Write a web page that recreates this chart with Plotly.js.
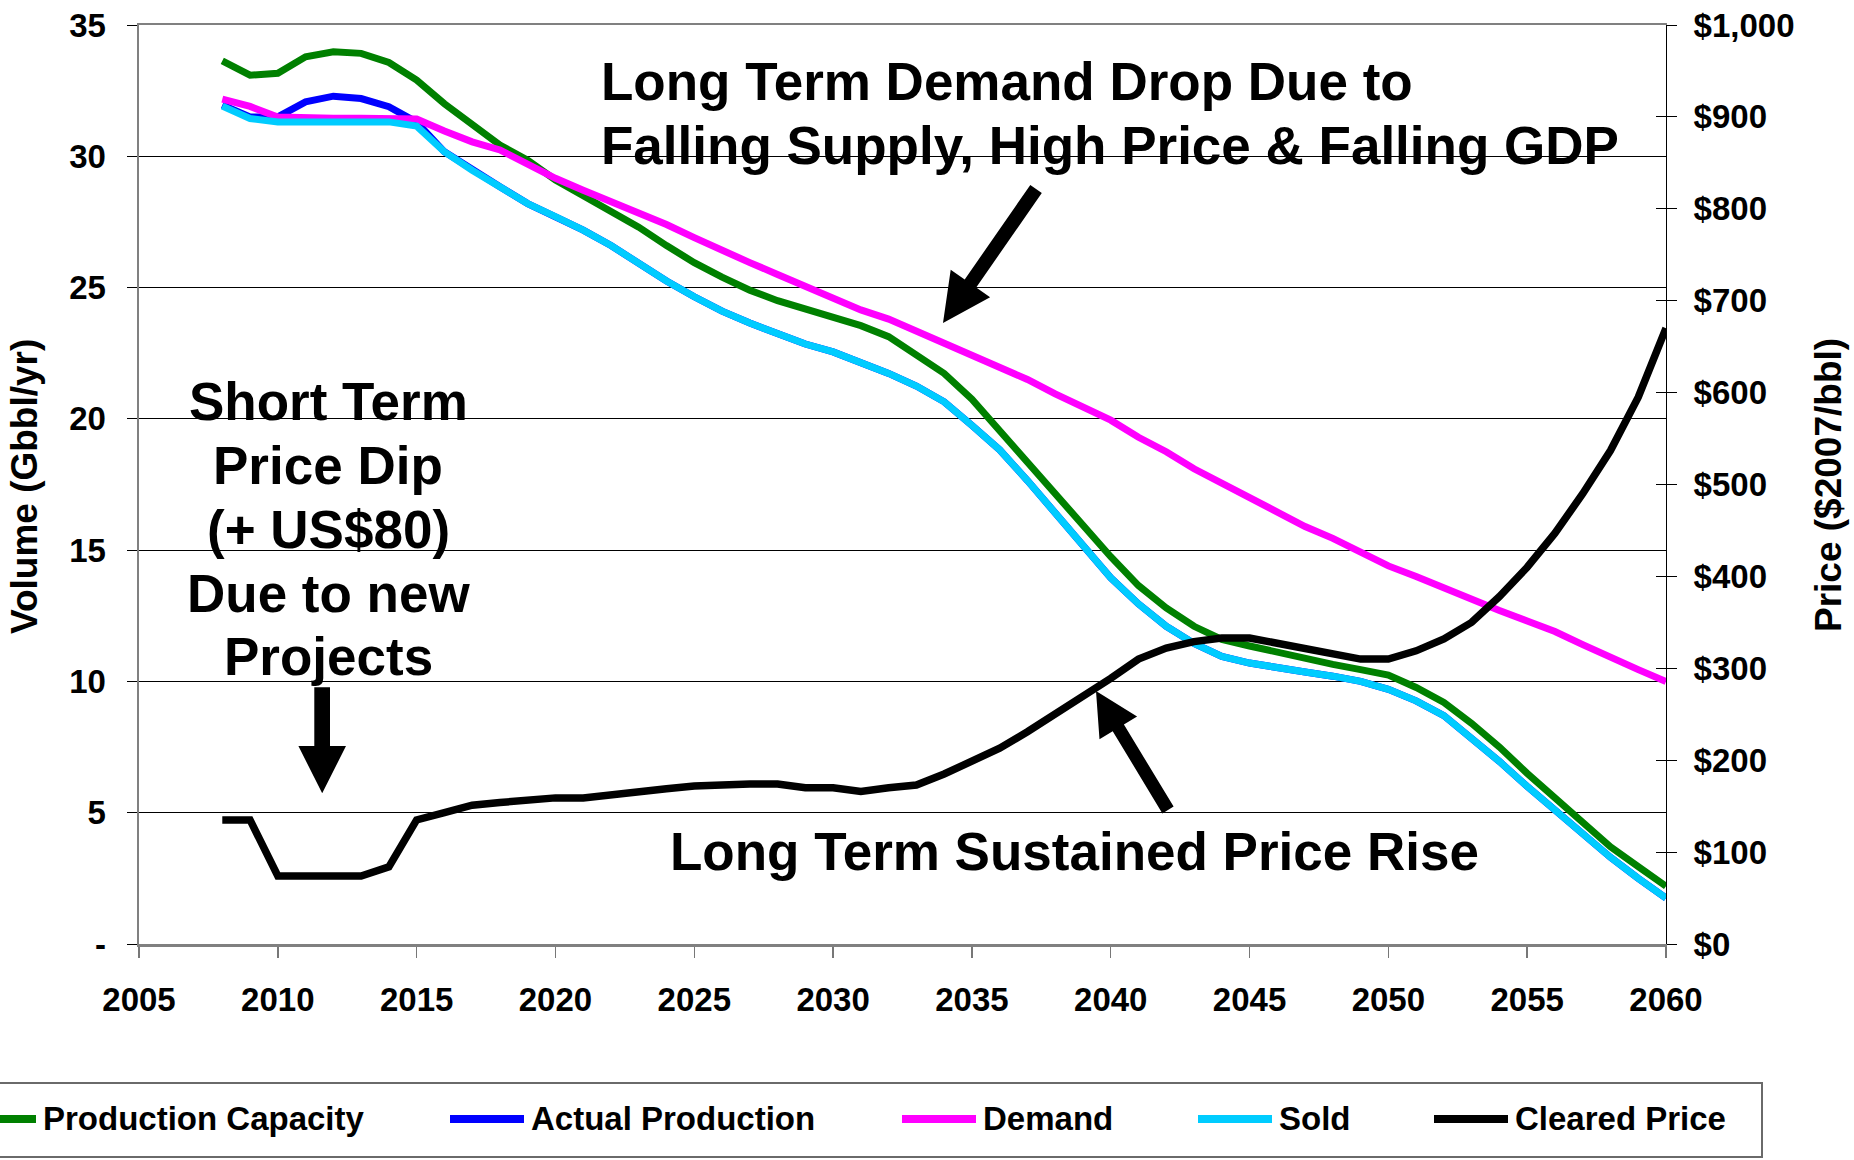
<!DOCTYPE html>
<html><head><meta charset="utf-8">
<script src="https://cdn.plot.ly/plotly-3.0.1.min.js"></script>
<style>html,body{margin:0;padding:0;background:#fff}#chart{width:1854px;height:1160px}</style>
</head><body><div id="chart"></div>
<script>
// ---------------- data ----------------
const years = [2008,2009,2010,2011,2012,2013,2014,2015,2016,2017,2018,2019,2020,2021,2022,2023,2024,2025,2026,2027,2028,2029,2030,2031,2032,2033,2034,2035,2036,2037,2038,2039,2040,2041,2042,2043,2044,2045,2046,2047,2048,2049,2050,2051,2052,2053,2054,2055,2056,2057,2058,2059,2060];
const productionCapacity = [33.63,33.09,33.16,33.79,33.98,33.92,33.57,32.9,32.0,31.19,30.43,29.85,29.1,28.5,27.9,27.3,26.6,25.95,25.4,24.9,24.5,24.2,23.85,23.55,23.13,22.45,21.73,20.75,19.55,18.35,17.1,15.85,14.75,13.65,12.8,12.1,11.6,11.35,11.1,10.85,10.65,10.45,10.24,9.77,9.2,8.4,7.5,6.5,5.55,4.6,3.7,2.95,2.2];
const actualProduction = [31.95,31.5,31.5,32.07,32.29,32.2,31.89,31.3,30.17,29.47,28.84,28.2,27.7,27.19,26.6,25.9,25.25,24.65,24.1,23.65,23.25,22.85,22.55,22.15,21.73,21.25,20.65,19.75,18.82,17.65,16.4,15.1,13.95,12.95,12.1,11.45,10.95,10.7,10.5,10.36,10.2,10.0,9.7,9.26,8.7,7.85,6.95,6.0,5.1,4.15,3.3,2.5,1.75];
const demand = [32.18,31.9,31.5,31.45,31.45,31.45,31.45,31.42,30.96,30.55,30.24,29.7,29.16,28.71,28.27,27.9,27.4,26.9,26.4,25.95,25.5,25.05,24.6,24.15,23.8,23.35,22.85,22.45,22.0,21.5,20.95,20.45,19.95,19.3,18.75,18.1,17.55,17.0,16.45,15.9,15.45,14.95,14.4,14.0,13.55,13.1,12.7,12.3,11.9,11.4,10.9,10.45,10.0];
const sold = [31.91,31.44,31.31,31.31,31.31,31.31,31.31,31.15,30.17,29.47,28.84,28.2,27.7,27.19,26.6,25.9,25.25,24.65,24.1,23.65,23.25,22.85,22.55,22.15,21.73,21.25,20.65,19.75,18.82,17.65,16.4,15.1,13.95,12.95,12.1,11.45,10.95,10.7,10.5,10.36,10.2,10.0,9.7,9.26,8.7,7.85,6.95,6.0,5.1,4.15,3.3,2.5,1.75];
const clearedPrice = [135,135,74,74,74,74,84,135,143,151,154,157,159,159,163,166,169,172,174,174,174,170,170,166,170,173,185,198,213,231,250,269,289,310,322,329,333,333,327,320,314,310,310,319,332,350,378,410,447,490,537,595,670];

const yearTicks = [2005,2010,2015,2020,2025,2030,2035,2040,2045,2050,2055,2060];
const volumeTicks = [0,5,10,15,20,25,30,35];
const volumeTickLabels = ['-','5','10','15','20','25','30','35'];
const priceTicks = [0,100,200,300,400,500,600,700,800,900,1000];
const priceTickLabels = ['$0','$100','$200','$300','$400','$500','$600','$700','$800','$900','$1,000'];

const seriesNames = ['Production Capacity','Actual Production','Demand','Sold','Cleared Price'];
const seriesColors = ['#008000','#0000FF','#FF00FF','#00CCFF','#000000'];
const axisTitles = ['Volume (Gbbl/yr)','Price ($2007/bbl)'];
const noteDemand = ['Long Term Demand Drop Due to','Falling Supply, High Price & Falling GDP'];
const noteDip = ['Short Term','Price Dip','(+ US$80)','Due to new','Projects'];
const noteRise = ['Long Term Sustained Price Rise'];

// ---------------- geometry helpers (pixels -> paper) ----------------
const L = 139, R = 1666, T = 25, B = 944;
const PW = R - L, PH = B - T;
const px = x => (x - L) / PW;
const py = y => (B - y) / PH;

// detect narrow font
function hasFont(name) {
  const c = document.createElement('canvas').getContext('2d');
  const s = 'Production Capacity 2005';
  c.font = 'bold 40px monospace';
  const w0 = c.measureText(s).width;
  c.font = 'bold 40px "' + name + '", monospace';
  return Math.abs(c.measureText(s).width - w0) > 1;
}
const narrowOK = hasFont('Liberation Sans Narrow');
const NARROW = narrowOK ? '"Liberation Sans Narrow", "Arial Narrow", sans-serif' : '"Liberation Sans", Arial, sans-serif';
const tickSize = narrowOK ? 38 : 33;
const legendSize = narrowOK ? 40 : 33;
const WIDE = '"Liberation Sans", Arial, sans-serif';

// ---------------- traces ----------------
const volSeries = [productionCapacity, actualProduction, demand, sold];
const traces = volSeries.map((s, i) => ({
  x: years, y: s, type: 'scatter', mode: 'lines', name: seriesNames[i],
  line: {color: seriesColors[i], width: 7}, yaxis: 'y', showlegend: false, hoverinfo: 'skip'
}));
traces.push({
  x: years, y: clearedPrice, type: 'scatter', mode: 'lines', name: seriesNames[4],
  line: {color: seriesColors[4], width: 7.5}, yaxis: 'y2', showlegend: false, hoverinfo: 'skip'
});
traces.push({x: [], y: [], type: 'scatter', mode: 'lines', yaxis: 'y3', showlegend: false, hoverinfo: 'skip'});

// ---------------- shapes ----------------
function poly(pts) {
  return 'M' + pts.map(p => px(p[0]).toFixed(5) + ',' + py(p[1]).toFixed(5)).join(' L') + ' Z';
}
const shapes = [];
// white boxes behind annotation texts (cover gridlines)
[[579, 40, 1640, 185], [165, 360, 489, 692], [644, 800, 1502, 895]].forEach(b => {
  shapes.push({type: 'rect', xref: 'paper', yref: 'paper', layer: 'between',
    x0: px(b[0]), x1: px(b[2]), y0: py(b[3]), y1: py(b[1]),
    fillcolor: '#ffffff', line: {width: 0}});
});
// arrows
const arrows = [
  [[1041.8,193],[976.2,287.5],[990.1,297.2],[943,323],[950.7,269.8],[964.7,279.5],[1030.3,185]],
  [[1173.6,806.6],[1123.9,724.4],[1137.1,716.4],[1096,691],[1099.5,739.2],[1112.7,731.2],[1162.4,813.4]],
  [[314.3,687.3],[330,687.3],[330,746],[346,746],[322.2,793.3],[298.4,746],[314.3,746]]
];
arrows.forEach(a => shapes.push({type: 'path', xref: 'paper', yref: 'paper', layer: 'above',
  path: poly(a), fillcolor: '#000000', line: {width: 0}}));
// legend box
shapes.push({type: 'rect', xref: 'paper', yref: 'paper', x0: px(-10), x1: px(1762), y0: py(1157), y1: py(1083),
  line: {color: '#6a6a6a', width: 2}, fillcolor: 'rgba(0,0,0,0)'});
const legendStarts = [-38, 450, 902, 1198, 1434];
const legendY = 1119;
legendStarts.forEach((sx, i) => shapes.push({type: 'line', xref: 'paper', yref: 'paper',
  x0: px(sx), x1: px(sx + 74), y0: py(legendY), y1: py(legendY),
  line: {color: seriesColors[i], width: 8}}));

// ---------------- annotations ----------------
const annFont = {family: WIDE, size: 53, color: '#000', weight: 'bold'};
const annotations = [];
noteDemand.forEach((t, i) => annotations.push({xref: 'paper', yref: 'paper', x: px(599), y: py(81 + 64 * i),
  xanchor: 'left', yanchor: 'middle', text: t, showarrow: false, font: annFont}));
noteDip.forEach((t, i) => annotations.push({xref: 'paper', yref: 'paper', x: px(328), y: py(402 + 63.7 * i),
  xanchor: 'center', yanchor: 'middle', text: t, showarrow: false, font: annFont}));
noteRise.forEach((t, i) => annotations.push({xref: 'paper', yref: 'paper', x: px(668), y: py(851),
  xanchor: 'left', yanchor: 'middle', text: t, showarrow: false, font: annFont}));
// axis titles
annotations.push({xref: 'paper', yref: 'paper', x: px(25), y: py(487), textangle: -90,
  xanchor: 'center', yanchor: 'middle', text: axisTitles[0], showarrow: false,
  font: {family: WIDE, size: 37, color: '#000', weight: 'bold'}});
annotations.push({xref: 'paper', yref: 'paper', x: px(1828), y: py(485), textangle: -90,
  xanchor: 'center', yanchor: 'middle', text: axisTitles[1], showarrow: false,
  font: {family: WIDE, size: 37, color: '#000', weight: 'bold'}});
// legend texts
legendStarts.forEach((sx, i) => annotations.push({xref: 'paper', yref: 'paper', x: px(sx + 79), y: py(legendY - 1),
  xanchor: 'left', yanchor: 'middle', text: seriesNames[i], showarrow: false,
  font: {family: NARROW, size: legendSize, color: '#000', weight: 'bold'}}));

const tickFont = {family: NARROW, size: tickSize, color: '#000', weight: 'bold'};

const layout = {
  width: 1854, height: 1160,
  margin: {l: L, r: 1854 - R, t: T, b: 1160 - B, pad: 0},
  paper_bgcolor: '#ffffff', plot_bgcolor: '#ffffff',
  showlegend: false,
  xaxis: {range: [2005, 2060], tickmode: 'array', tickvals: yearTicks, ticks: 'outside', ticklen: 11,
    tickcolor: '#777', tickwidth: 1.5, showline: true, linecolor: '#808080', linewidth: 2.5, mirror: true,
    showgrid: false, zeroline: false, tickfont: tickFont, ticklabelstandoff: 14, fixedrange: true},
  yaxis: {range: [0, 35], tickmode: 'array', tickvals: volumeTicks, ticktext: volumeTickLabels,
    ticks: 'outside', ticklen: 10, tickcolor: '#000', tickwidth: 1,
    showgrid: true, gridcolor: '#000', gridwidth: 1, showline: true, linecolor: '#808080', linewidth: 2.5,
    zeroline: false, tickfont: tickFont, ticklabelstandoff: 14, fixedrange: true},
  yaxis2: {overlaying: 'y', side: 'right', range: [0, 1000], tickmode: 'array', tickvals: priceTicks,
    ticktext: priceTickLabels, ticks: 'outside', ticklen: 10, tickcolor: '#000', tickwidth: 1,
    showline: true, linecolor: '#000', linewidth: 1, showgrid: false, zeroline: false,
    tickfont: tickFont, ticklabelstandoff: 10, fixedrange: true},
  yaxis3: {overlaying: 'y', side: 'right', range: [0, 1000], tickmode: 'array', tickvals: priceTicks,
    ticks: 'inside', ticklen: 10, tickcolor: '#000', tickwidth: 1, showticklabels: false,
    showline: false, showgrid: false, zeroline: false, fixedrange: true},
  shapes: shapes,
  annotations: annotations
};

Plotly.newPlot('chart', traces, layout, {staticPlot: true, displayModeBar: false});
</script>
</body></html>
